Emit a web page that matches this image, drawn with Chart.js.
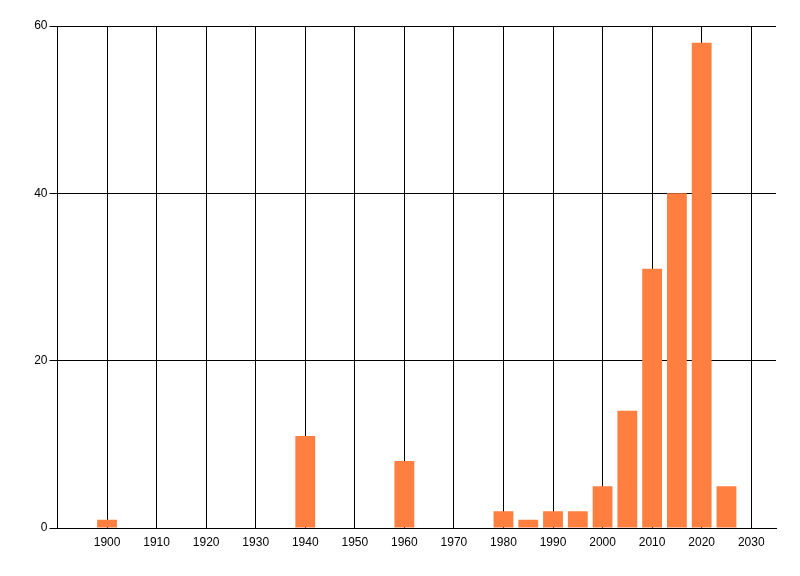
<!DOCTYPE html>
<html>
<head>
<meta charset="utf-8">
<script src="https://cdn.jsdelivr.net/npm/chart.js@4/dist/chart.umd.min.js"></script>
<style>
  html, body { margin: 0; padding: 0; background: #fff; }
  #wrap { width: 800px; height: 576px; }
</style>
</head>
<body>
<div id="wrap"><canvas id="myChart"></canvas></div>
<script>
// bar positions (years) and counts
var years = [1900, 1940, 1960, 1980, 1985, 1990, 1995, 2000, 2005, 2010, 2015, 2020, 2025];
var counts = [1, 11, 8, 2, 1, 2, 2, 5, 14, 31, 40, 58, 5];
var xTicks = [1900, 1910, 1920, 1930, 1940, 1950, 1960, 1970, 1980, 1990, 2000, 2010, 2020, 2030];
var yTicks = [0, 20, 40, 60];

var points = years.map(function (y, i) { return { x: y, y: counts[i] }; });

var ctx = document.getElementById('myChart').getContext('2d');
var chart = new Chart(ctx, {
    type: 'bar',
    data: {
        datasets: [{
            data: points,
            backgroundColor: '#ff7f41',
            borderWidth: 0,
            categoryPercentage: 1,
            barPercentage: 0.8
        }]
    },
    options: {
        responsive: true,
        maintainAspectRatio: false,
        animation: false,
        layout: { padding: { top: 26, right: 24, bottom: 0, left: 0 } },
        plugins: {
            legend: { display: false },
            tooltip: { enabled: false }
        },
        scales: {
            x: {
                type: 'linear',
                offset: false,
                min: 1890,
                max: 2035,
                afterBuildTicks: function (scale) {
                    scale.ticks = xTicks.map(function (v) { return { value: v }; });
                },
                afterFit: function (scale) { scale.height = 48; },
                grid: { color: '#000', lineWidth: 1, drawTicks: false, offset: false },
                border: { color: '#000', width: 1 },
                ticks: {
                    color: '#000',
                    padding: 7,
                    maxRotation: 0,
                    font: { family: 'Liberation Sans', size: 12 },
                    callback: function (v) { return String(v); }
                }
            },
            y: {
                min: 0,
                max: 60,
                afterBuildTicks: function (scale) {
                    scale.ticks = yTicks.map(function (v) { return { value: v }; });
                },
                afterFit: function (scale) { scale.width = 57.5; },
                grid: { color: '#000', lineWidth: 1, tickLength: 8 },
                border: { color: '#000', width: 1 },
                ticks: {
                    color: '#000',
                    padding: 2,
                    font: { family: 'Liberation Sans', size: 12 }
                }
            }
        }
    }
});
</script>
</body>
</html>
